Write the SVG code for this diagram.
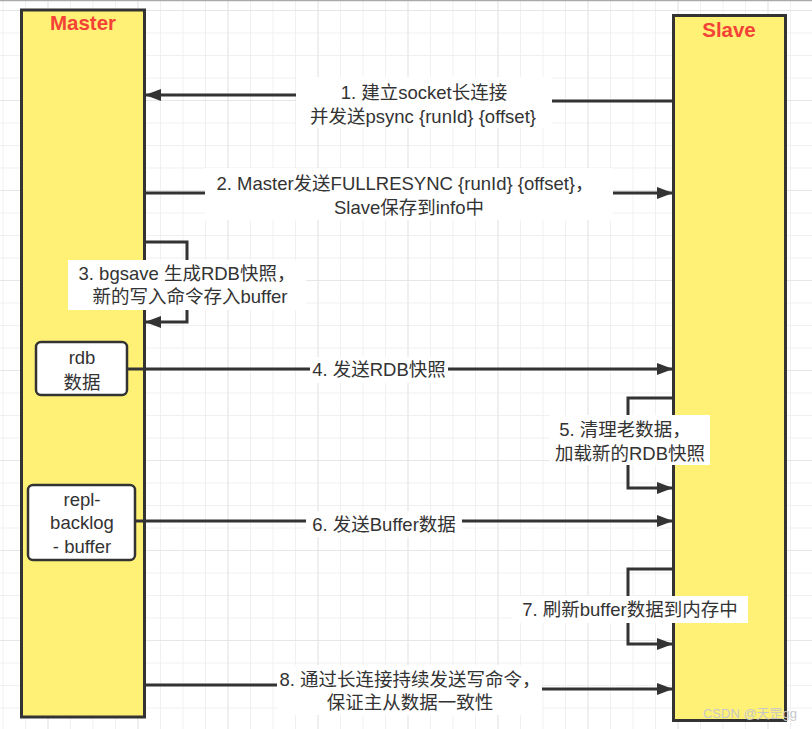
<svg xmlns="http://www.w3.org/2000/svg" width="812" height="729" viewBox="0 0 812 729">
<style>
.lane{fill:#fff176;stroke:#333;stroke-width:3}
.title{font-family:"Liberation Sans","Noto Sans CJK SC",sans-serif;font-weight:bold;font-size:20.5px;fill:#f44336;text-anchor:middle}
.box{fill:#fff;stroke:#333;stroke-width:2.5}
.t{font-family:"Liberation Sans","Noto Sans CJK SC",sans-serif;font-size:18.5px;fill:#333;text-anchor:middle}
.bg{fill:#fff}
.c{fill:none;stroke:#333;stroke-width:3;marker-end:url(#ah)}
</style>
<defs>
<pattern id="g1" x="2.5" y="10" width="22.5" height="22.5" patternUnits="userSpaceOnUse">
<path d="M0,0 H22.5 M0,0 V22.5" stroke="#f0f0f0" stroke-width="2" fill="none"/>
</pattern>
<pattern id="g2" x="137.5" y="10" width="90" height="90" patternUnits="userSpaceOnUse">
<path d="M0,0 H90 M0,0 V90" stroke="#e6e6e6" stroke-width="2" fill="none"/>
</pattern>
<marker id="ah" markerUnits="userSpaceOnUse" markerWidth="16" markerHeight="12" refX="15" refY="6" orient="auto">
<path d="M0,0 L16,6 L0,12 z" fill="#333"/>
</marker>
</defs>
<rect width="812" height="729" fill="#fff"/>
<rect width="812" height="729" fill="url(#g1)"/>
<rect width="812" height="729" fill="url(#g2)"/>
<line x1="0" y1="0.5" x2="812" y2="0.5" stroke="#aaa" stroke-width="1.5"/>

<g id="master">
<rect class="lane" x="21.5" y="10" width="123" height="707"/>
<text class="title" x="83" y="30">Master</text>
</g>
<g id="slave">
<rect class="lane" x="673.5" y="15.5" width="112" height="705"/>
<text class="title" x="729" y="37">Slave</text>
</g>
<g id="rdb">
<rect class="box" x="36" y="342" width="91" height="53" rx="5"/>
<text class="t" x="82" y="364">rdb</text>
<text class="t" x="82" y="389">数据</text>
</g>
<g id="repl">
<rect class="box" x="28" y="485" width="107" height="75" rx="5"/>
<text class="t" x="82" y="506">repl-</text>
<text class="t" x="82" y="529">backlog</text>
<text class="t" x="82" y="553">- buffer</text>
</g>

<g id="connectors">
<path class="c" d="M673,101 H420 V95 H146"/>
<path class="c" d="M145,193 H672"/>
<path class="c" d="M145,242 H187 V322 H146"/>
<path class="c" d="M127,369 H672"/>
<path class="c" d="M673,398 H628 V488 H672"/>
<path class="c" d="M136,521 H672"/>
<path class="c" d="M673,569 H628 V644 H672"/>
<path class="c" d="M145,685 H420 V689 H672"/>
</g>

<g id="labels">
<rect class="bg" x="296" y="77" width="256" height="51"/>
<text class="t" x="424" y="99">1. 建立socket长连接</text>
<text class="t" x="423" y="123">并发送psync {runId} {offset}</text>

<rect class="bg" x="205" y="168" width="408" height="52"/>
<text class="t" x="405" y="190">2. Master发送FULLRESYNC {runId} {offset}，</text>
<text class="t" x="409" y="214">Slave保存到info中</text>

<rect class="bg" x="68" y="260" width="238" height="50"/>
<text class="t" x="187" y="280">3. bgsave 生成RDB快照，</text>
<text class="t" x="190" y="303">新的写入命令存入buffer</text>

<rect class="bg" x="310" y="357" width="138" height="26"/>
<text class="t" x="379" y="376">4. 发送RDB快照</text>

<rect class="bg" x="550" y="415" width="160" height="50"/>
<text class="t" x="625" y="436">5. 清理老数据，</text>
<text class="t" x="630" y="460">加载新的RDB快照</text>

<rect class="bg" x="306" y="511" width="156" height="26"/>
<text class="t" x="384" y="531">6. 发送Buffer数据</text>

<rect class="bg" x="512" y="596" width="236" height="27"/>
<text class="t" x="630" y="616">7. 刷新buffer数据到内存中</text>

<rect class="bg" x="277" y="665" width="265" height="50"/>
<text class="t" x="410" y="686">8. 通过长连接持续发送写命令，</text>
<text class="t" x="410" y="709">保证主从数据一致性</text>
</g>

<text x="750" y="718" font-family="'Liberation Sans','Noto Sans CJK SC',sans-serif" font-size="13" fill="#c8c8c8" text-anchor="middle">CSDN @天罡gg</text>
</svg>
